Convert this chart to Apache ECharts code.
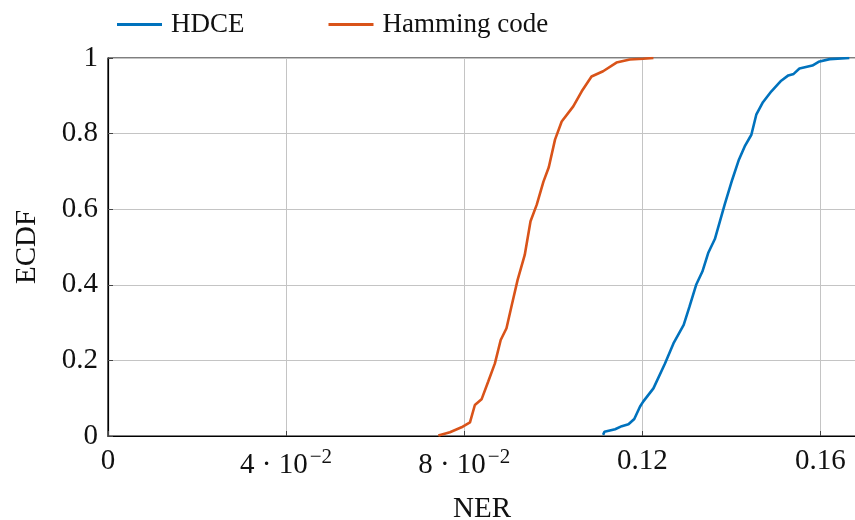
<!DOCTYPE html>
<html>
<head>
<meta charset="utf-8">
<script src="https://cdn.jsdelivr.net/npm/echarts@6/dist/echarts.min.js"></script>
<style>
  html, body { margin: 0; padding: 0; background: #fff; }
  #chart { width: 855px; height: 520px; }
</style>
</head>
<body>
<div id="chart"></div>
<script>
// Empirical CDF of the normalized error rate for the two schemes
const seriesNames = ['HDCE', 'Hamming code'];

const hdceNer = [0.1112, 0.1115, 0.1139, 0.1154, 0.1169, 0.1182, 0.1195, 0.1202, 0.1225,
  0.1251, 0.1270, 0.1293, 0.1306, 0.1321, 0.1335, 0.1348, 0.1363, 0.1385, 0.1402,
  0.1417, 0.1430, 0.1445, 0.1456, 0.1471, 0.1490, 0.1512, 0.1528, 0.1540, 0.1553,
  0.1582, 0.1596, 0.1621, 0.1665];
const hdceEcdf = [0.003, 0.011, 0.018, 0.026, 0.031, 0.045, 0.078, 0.091, 0.126,
  0.192, 0.245, 0.294, 0.342, 0.400, 0.435, 0.484, 0.521, 0.612, 0.678,
  0.731, 0.766, 0.797, 0.850, 0.883, 0.912, 0.940, 0.954, 0.958, 0.972,
  0.980, 0.990, 0.997, 1.000];

const hammingNer = [0.0742, 0.0768, 0.0794, 0.0813, 0.0824, 0.0839, 0.0854, 0.0869,
  0.0882, 0.0895, 0.0906, 0.0920, 0.0936, 0.0949, 0.0963, 0.0978, 0.0990, 0.1004,
  0.1019, 0.1045, 0.1064, 0.1086, 0.1112, 0.1142, 0.1172, 0.1202, 0.1225];
const hammingEcdf = [0.001, 0.010, 0.023, 0.036, 0.082, 0.097, 0.144, 0.192,
  0.254, 0.285, 0.342, 0.413, 0.479, 0.568, 0.612, 0.673, 0.711, 0.784,
  0.832, 0.872, 0.912, 0.951, 0.965, 0.988, 0.996, 0.998, 1.000];

const xTickValues = [0, 0.04, 0.08, 0.12, 0.16];
const xTickLabels = ['0', '{b|4 \u00b7 10}{s|\u22122}', '{b|8 \u00b7 10}{s|\u22122}', '0.12', '0.16'];
const yTickValues = [0, 0.2, 0.4, 0.6, 0.8, 1];
const yTickLabels = ['0', '0.2', '0.4', '0.6', '0.8', '1'];

const colors = ['#0072BD', '#D95319'];
const FONT = '"Liberation Serif", "DejaVu Serif", serif';

function pairs(xs, ys) { return xs.map((x, i) => [x, ys[i]]); }
function lookup(values, labels, v) {
  for (let i = 0; i < values.length; i++) {
    if (Math.abs(values[i] - v) < 1e-9) return labels[i];
  }
  return '';
}

const chart = echarts.init(document.getElementById('chart'), null, { renderer: 'canvas' });

chart.setOption({
  animation: false,
  backgroundColor: '#ffffff',
  color: colors,
  textStyle: { fontFamily: FONT },
  legend: {
    top: 6,
    left: 112,
    itemWidth: 45,
    itemHeight: 3,
    itemGap: 84,
    icon: 'rect',
    textStyle: { fontFamily: FONT, fontSize: 27, color: '#111', padding: [0, 0, 0, 4] },
    data: seriesNames
  },
  grid: {
    left: 108, top: 58, right: -1, bottom: 84,
    show: true, borderColor: '#000', borderWidth: 1.2,
    containLabel: false,
    outerBoundsMode: 'none'
  },
  xAxis: {
    type: 'value',
    min: 0, max: 0.168, interval: 0.04,
    name: 'NER',
    nameLocation: 'middle',
    nameGap: 59,
    nameTextStyle: { fontFamily: FONT, fontSize: 29, color: '#111' },
    axisLine: { show: true, onZero: false, lineStyle: { color: '#000', width: 1.2 } },
    axisTick: { show: true, inside: true, length: 5, lineStyle: { color: '#444' } },
    splitLine: { show: true, lineStyle: { color: '#c4c4c4', width: 1 } },
    axisLabel: {
      showMaxLabel: false,
      margin: 11,
      fontFamily: FONT, fontSize: 29, color: '#111',
      formatter: v => lookup(xTickValues, xTickLabels, v),
      rich: {
        b: { fontFamily: FONT, fontSize: 29, color: '#111' },
        s: { fontFamily: FONT, fontSize: 21, color: '#111', verticalAlign: 'top', padding: [0, 0, 16, 2] }
      }
    }
  },
  yAxis: {
    type: 'value',
    min: 0, max: 1, interval: 0.2,
    name: 'ECDF',
    nameLocation: 'middle',
    nameGap: 66,
    nameRotate: 90,
    nameTextStyle: { fontFamily: FONT, fontSize: 29, color: '#111' },
    axisLine: { show: true, lineStyle: { color: '#000', width: 1.2 } },
    axisTick: { show: true, inside: true, length: 5, lineStyle: { color: '#444' } },
    splitLine: { show: true, lineStyle: { color: '#c4c4c4', width: 1 } },
    axisLabel: {
      margin: 10,
      fontFamily: FONT, fontSize: 29, color: '#111',
      formatter: v => lookup(yTickValues, yTickLabels, v)
    }
  },
  series: [
    {
      name: seriesNames[0],
      type: 'line',
      data: pairs(hdceNer, hdceEcdf),
      showSymbol: false, symbol: 'none',
      lineStyle: { color: colors[0], width: 2.6 },
      z: 3
    },
    {
      name: seriesNames[1],
      type: 'line',
      data: pairs(hammingNer, hammingEcdf),
      showSymbol: false, symbol: 'none',
      lineStyle: { color: colors[1], width: 2.6 },
      z: 3
    }
  ]
});
</script>
</body>
</html>
